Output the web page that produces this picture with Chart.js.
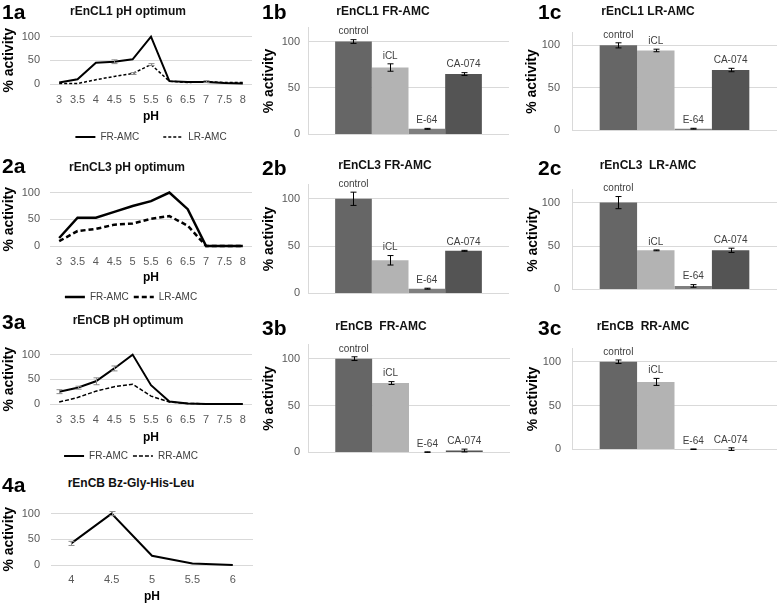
<!DOCTYPE html>
<html>
<head>
<meta charset="utf-8">
<script src="https://cdn.jsdelivr.net/npm/chart.js@4.4.1/dist/chart.umd.min.js"></script>
<style>
  body { margin: 0; width: 778px; height: 606px; position: relative; overflow: hidden; background: #fff;
         font-family: 'Liberation Sans', Arial, sans-serif; }
  canvas { position: absolute; }
  .lab { position: absolute; font-weight: bold; font-size: 21px; line-height: 1; color: #000; transform: translateY(-50%); }
  .ttl { position: absolute; font-weight: bold; font-size: 12px; line-height: 1; color: #111; white-space: pre; transform: translate(-50%, -50%); }
</style>
</head>
<body>
<script>
// pH profiles
const phLabels = ['3', '3.5', '4', '4.5', '5', '5.5', '6', '6.5', '7', '7.5', '8'];
const phLabelsBz = ['4', '4.5', '5', '5.5', '6'];

const cl1FR = [3, 10, 45, 47, 52, 100, 6, 4, 4, 2, 1];
const cl1FRErr = [0, 0, 0, 4, 0, 0, 0, 0, 0, 0, 0];
const cl1LR = [1, 1, 9, 16, 22, 41, 6, 3, 5, 3, 3];
const cl1LRErr = [0, 0, 0, 0, 2, 2, 0, 0, 2, 0, 0];

const cl3FR = [15, 53, 53, 64, 75, 84, 100, 69, 0, 0, 0];
const cl3LR = [9, 28, 32, 40, 42, 51, 56, 38, 0, 0, 0];

const cbFR = [25, 33, 46, 72, 100, 38, 5, 1, 0, 0, 0];
const cbFRErr = [4, 3, 7, 5, 0, 0, 0, 0, 0, 0, 0];
const cbRR = [4, 13, 26, 35, 40, 16, 4, 1, 0.5, 0, 0];

const cbBz = [42, 100, 18, 3, 0];
const cbBzErr = [4, 4, 0, 0, 0];

// inhibitor panels
const treatments = ['control', 'iCL', 'E-64', 'CA-074'];
const barColors = ['#666666', '#b3b3b3', '#7f7f7f', '#545454'];

const cl1FRInh = [100, 72, 6, 65];
const cl1FRInhErr = [2, 4, 0.5, 1.5];
const cl1LRInh = [100, 94, 2, 71];
const cl1LRInhErr = [3, 1.5, 0.5, 2];
const cl3FRInh = [100, 35, 5, 45];
const cl3FRInhErr = [7, 5, 0.5, 0.5];
const cl3LRInh = [100, 45, 4, 45];
const cl3LRInhErr = [7, 0.5, 1.5, 2.5];
const cbFRInh = [100, 74, 0.3, 2];
const cbFRInhErr = [2, 1.5, 0.3, 1.5];
const cbRRInh = [100, 77, 0.2, 0.3];
const cbRRInhErr = [2, 4, 0.3, 1.5];

Chart.defaults.font.family = "'Liberation Sans', Arial, sans-serif";
Chart.defaults.color = '#595959';

const errorBars = {
  id: 'errorBars',
  afterDatasetsDraw(chart, args, opts) {
    const { ctx, scales: { y } } = chart;
    ctx.save();
    ctx.strokeStyle = opts.color || '#000';
    ctx.lineWidth = 1;
    chart.data.datasets.forEach((ds, di) => {
      if (!ds.errors) return;
      chart.getDatasetMeta(di).data.forEach((el, i) => {
        const e = ds.errors[i];
        if (!e) return;
        const v = ds.data[i];
        const x = Math.round(el.x) + 0.5;
        const top = y.getPixelForValue(v + e);
        const bot = y.getPixelForValue(v - e);
        const cap = opts.cap || 3;
        ctx.beginPath();
        ctx.moveTo(x, top); ctx.lineTo(x, bot);
        ctx.moveTo(x - cap, top); ctx.lineTo(x + cap, top);
        ctx.moveTo(x - cap, bot); ctx.lineTo(x + cap, bot);
        ctx.stroke();
      });
    });
    ctx.restore();
  }
};

const barLabels = {
  id: 'barLabels',
  afterDatasetsDraw(chart) {
    const { ctx, scales: { y } } = chart;
    ctx.save();
    ctx.font = "10px 'Liberation Sans', Arial, sans-serif";
    ctx.fillStyle = '#404040';
    ctx.textAlign = 'center';
    ctx.textBaseline = 'middle';
    chart.data.datasets.forEach((ds, i) => {
      const el = chart.getDatasetMeta(i).data[0];
      const top = y.getPixelForValue(ds.data[0] + (ds.errors ? ds.errors[0] : 0));
      ctx.fillText(ds.label, el.x, top - 8);
    });
    ctx.restore();
  }
};

function makeCanvas(left, top, w, h) {
  const c = document.createElement('canvas');
  c.width = w; c.height = h;
  c.style.left = left + 'px'; c.style.top = top + 'px';
  c.style.width = w + 'px'; c.style.height = h + 'px';
  document.body.appendChild(c);
  return c;
}

function addText(cls, text, x, y) {
  const d = document.createElement('div');
  d.className = cls;
  d.textContent = text;
  d.style.left = x + 'px';
  d.style.top = y + 'px';
  document.body.appendChild(d);
}

function linePanel(p) {
  const W = 256;
  const hasLegend = p.legendY != null;
  const xBottom = hasLegend ? p.legendY - p.gap - 5 : p.phY + 8;
  const legendH = hasLegend ? p.gap + 19 : 0;
  const padB = hasLegend ? 0 : 1;
  const H = xBottom + legendH + padB - p.top;
  const padL = p.padL || 0;
  const canvas = makeCanvas(0, p.top, W, H);

  new Chart(canvas, {
    type: 'line',
    data: {
      labels: p.labels,
      datasets: p.series.map(s => ({
        label: s.label,
        data: s.data,
        errors: s.err,
        borderColor: '#000',
        backgroundColor: '#000',
        borderWidth: s.width,
        borderDash: s.dash || [],
        pointRadius: 0,
        tension: 0,
        fill: false,
        clip: 6
      }))
    },
    options: {
      responsive: false,
      animation: false,
      devicePixelRatio: 1,
      events: [],
      layout: {
        autoPadding: false,
        padding: { top: p.aTop - p.top, bottom: padB, left: padL, right: W - p.aRight }
      },
      scales: {
        x: {
          type: 'category',
          offset: true,
          grid: { display: false, drawTicks: false },
          border: { display: false },
          ticks: { padding: p.tickY - p.aBot - 6.6, font: { size: 11 }, color: '#595959', maxRotation: 0, autoSkip: false },
          title: { display: true, text: 'pH', color: '#000', font: { size: 12, weight: 'bold' },
                   padding: { top: 0, bottom: xBottom - 7.2 - p.phY } },
          afterFit: s => { s.height = xBottom - p.aBot; }
        },
        y: {
          min: 0,
          max: 100,
          ticks: { stepSize: 50, padding: p.aLeft - 40, font: { size: 11 }, color: '#595959' },
          grid: { color: '#d9d9d9', drawTicks: false },
          border: { display: false },
          title: { display: true, text: '% activity', color: '#000', font: { size: 14, weight: 'bold' },
                   padding: { top: 9 - 8.4 - padL, bottom: 0 } },
          afterFit: s => { s.width = p.aLeft - padL; }
        }
      },
      plugins: {
        legend: hasLegend ? {
          display: true,
          position: 'bottom',
          fullSize: p.legendFull,
          maxHeight: legendH,
          labels: {
            usePointStyle: true,
            pointStyle: 'line',
            pointStyleWidth: 20,
            boxHeight: 10,
            padding: p.gap,
            font: { size: 10 },
            color: '#404040',
            generateLabels: ch => ch.data.datasets.map((d, i) => ({
              text: d.label,
              strokeStyle: '#000',
              fillStyle: '#000',
              lineWidth: d.borderWidth,
              lineDash: d.borderDash,
              pointStyle: 'line',
              hidden: false,
              datasetIndex: i,
              fontColor: '#404040'
            }))
          }
        } : { display: false },
        tooltip: { enabled: false },
        errorBars: { color: '#8c8c8c', cap: 3 }
      }
    },
    plugins: [errorBars]
  });
}

function barPanel(p) {
  const yMax = 115;
  const aTop = p.aBot - (yMax / 100) * (p.aBot - p.y100);
  const cTop = Math.round(aTop) - 12;
  const H = p.aBot + 10 - cTop;
  const canvas = makeCanvas(p.cLeft, cTop, p.cW, H);

  new Chart(canvas, {
    type: 'bar',
    data: {
      labels: [''],
      datasets: treatments.map((t, i) => ({
        label: t,
        data: [p.values[i]],
        errors: [p.errs[i]],
        backgroundColor: barColors[i],
        borderWidth: 0,
        categoryPercentage: 0.73,
        barPercentage: 1
      }))
    },
    options: {
      responsive: false,
      animation: false,
      devicePixelRatio: 1,
      events: [],
      layout: {
        autoPadding: false,
        padding: { top: aTop - cTop, bottom: H - (p.aBot - cTop), left: 0, right: p.cLeft + p.cW - p.aRight }
      },
      scales: {
        x: { display: false },
        y: {
          min: 0,
          max: yMax,
          ticks: { stepSize: 50, includeBounds: false, padding: p.tickPad, font: { size: 11 }, color: '#595959' },
          grid: { color: '#d9d9d9', drawTicks: false },
          border: { display: true, color: '#d9d9d9' },
          title: { display: true, text: '% activity', color: '#000', font: { size: 14, weight: 'bold' },
                   padding: { top: p.titleX - p.cLeft - 8.4, bottom: 0 } },
          afterFit: s => { s.width = p.aLeft - p.cLeft; }
        }
      },
      plugins: {
        legend: { display: false },
        tooltip: { enabled: false },
        errorBars: { color: '#000', cap: 3 }
      }
    },
    plugins: [errorBars, barLabels]
  });
}

// ---- line panels (column a)
linePanel({ top: 20, aTop: 33, aBot: 84, aLeft: 50, aRight: 252, tickY: 100, phY: 117, legendY: 137, gap: 24, legendFull: false,
  labels: phLabels,
  series: [
    { label: 'FR-AMC', data: cl1FR, err: cl1FRErr, width: 2 },
    { label: 'LR-AMC', data: cl1LR, err: cl1LRErr, width: 1.5, dash: [3, 2] }
  ] });

linePanel({ top: 176, aTop: 190, aBot: 246, aLeft: 50, aRight: 252, tickY: 262, phY: 278, legendY: 297, gap: 5, legendFull: true, padL: 10,
  labels: phLabels,
  series: [
    { label: 'FR-AMC', data: cl3FR, width: 2.5 },
    { label: 'LR-AMC', data: cl3LR, width: 2.5, dash: [5, 3] }
  ] });

linePanel({ top: 338, aTop: 353, aBot: 404, aLeft: 50, aRight: 252, tickY: 420, phY: 438, legendY: 456, gap: 5, legendFull: true, padL: 10,
  labels: phLabels,
  series: [
    { label: 'FR-AMC', data: cbFR, err: cbFRErr, width: 2 },
    { label: 'RR-AMC', data: cbRR, width: 1.5, dash: [4, 2] }
  ] });

linePanel({ top: 496, aTop: 511, aBot: 565, aLeft: 51, aRight: 253, tickY: 580, phY: 597,
  labels: phLabelsBz,
  series: [
    { label: 'Bz-Gly-His-Leu', data: cbBz, err: cbBzErr, width: 2 }
  ] });

// ---- bar panels (columns b and c)
barPanel({ cLeft: 258, cW: 260, aLeft: 308, aRight: 509, y100: 40, aBot: 139, tickPad: 8, titleX: 269, values: cl1FRInh, errs: cl1FRInhErr });
barPanel({ cLeft: 518, cW: 260, aLeft: 572, aRight: 777, y100: 41, aBot: 139, tickPad: 12, titleX: 532, values: cl1LRInh, errs: cl1LRInhErr });
barPanel({ cLeft: 258, cW: 260, aLeft: 308, aRight: 509, y100: 197, aBot: 298, tickPad: 8, titleX: 269, values: cl3FRInh, errs: cl3FRInhErr });
barPanel({ cLeft: 518, cW: 260, aLeft: 572, aRight: 777, y100: 198, aBot: 298, tickPad: 12, titleX: 533, values: cl3LRInh, errs: cl3LRInhErr });
barPanel({ cLeft: 258, cW: 260, aLeft: 308, aRight: 510, y100: 357, aBot: 457, tickPad: 8, titleX: 269, values: cbFRInh, errs: cbFRInhErr });
barPanel({ cLeft: 518, cW: 260, aLeft: 572, aRight: 777, y100: 358, aBot: 457, tickPad: 11, titleX: 533, values: cbRRInh, errs: cbRRInhErr });

// ---- panel letters and titles
addText('lab', '1a', 2, 11);
addText('lab', '2a', 2, 165);
addText('lab', '3a', 2, 321);
addText('lab', '4a', 2, 484);
addText('lab', '1b', 262, 11);
addText('lab', '1c', 538, 11);
addText('lab', '2b', 262, 167);
addText('lab', '2c', 538, 167);
addText('lab', '3b', 262, 327);
addText('lab', '3c', 538, 327);

addText('ttl', 'rEnCL1 pH optimum', 128, 11);
addText('ttl', 'rEnCL3 pH optimum', 127, 167);
addText('ttl', 'rEnCB pH optimum', 128, 320);
addText('ttl', 'rEnCB Bz-Gly-His-Leu', 131, 483);
addText('ttl', 'rEnCL1 FR-AMC', 383, 11);
addText('ttl', 'rEnCL1 LR-AMC', 648, 11);
addText('ttl', 'rEnCL3 FR-AMC', 385, 165);
addText('ttl', 'rEnCL3  LR-AMC', 648, 165);
addText('ttl', 'rEnCB  FR-AMC', 381, 326);
addText('ttl', 'rEnCB  RR-AMC', 643, 326);
</script>
</body>
</html>
